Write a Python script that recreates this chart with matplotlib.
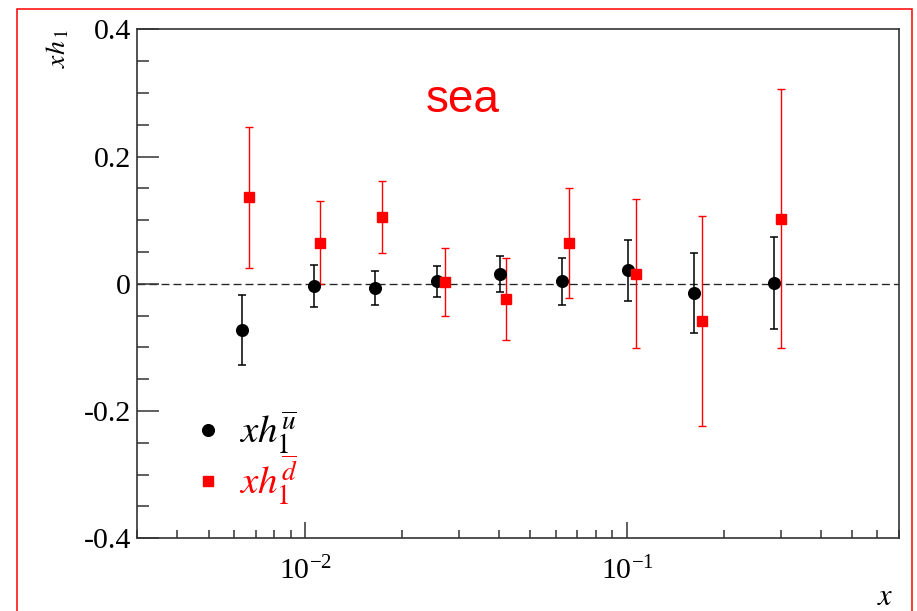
import matplotlib
matplotlib.use("Agg")
import matplotlib.pyplot as plt
from matplotlib.lines import Line2D
from matplotlib.patches import Rectangle
from matplotlib.ticker import FixedLocator, FixedFormatter, LogLocator, LogFormatterMathtext, NullFormatter

# =====================================
# Data
# =====================================
x_ubar = [0.00637, 0.0106, 0.0165, 0.0257, 0.0401, 0.0629, 0.1007, 0.1614, 0.287]
h_ubar = [-0.0725, -0.004, -0.0066, 0.004, 0.0155, 0.004, 0.021, -0.0146, 0.0013]
err_ubar = [0.0555, 0.033, 0.027, 0.0245, 0.028, 0.037, 0.0475, 0.063, 0.072]

x_dbar = [0.00667, 0.01107, 0.0173, 0.0272, 0.0421, 0.0661, 0.1062, 0.1703, 0.301]
h_dbar = [0.136, 0.0646, 0.105, 0.0024, -0.0234, 0.0646, 0.016, -0.0578, 0.1025]
err_dbar = [0.111, 0.0655, 0.0565, 0.0535, 0.0645, 0.0865, 0.117, 0.165, 0.204]

y_ticks = [-0.4, -0.2, 0.0, 0.2, 0.4]
y_tick_labels = ["-0.4", "-0.2", "0", "0.2", "0.4"]

plt.rcParams["font.family"] = "serif"
plt.rcParams["font.serif"] = ["Liberation Serif", "STIXGeneral", "DejaVu Serif"]
plt.rcParams["mathtext.fontset"] = "stix"
plt.rcParams["axes.unicode_minus"] = False

fig = plt.figure(figsize=(9.17, 6.11), dpi=100)
ax = fig.add_axes([0.1497, 0.119, 0.8307, 0.833])

# red frame around the whole picture
fig.patches.append(Rectangle((0.0182, -0.02), 0.976, 1.0048, transform=fig.transFigure,
                             fill=False, edgecolor="red", linewidth=1.1, zorder=10))

ax.axhline(0, color="#222222", linewidth=0.95, linestyle=(0, (6, 3.1)), zorder=1)

ax.errorbar(x_ubar, h_ubar, yerr=err_ubar, fmt="o", color="black", markersize=8.4,
            elinewidth=1.1, capsize=2.6, capthick=1.1, zorder=3)
ax.errorbar(x_dbar, h_dbar, yerr=err_dbar, fmt="s", color="red", markersize=7.7,
            elinewidth=1.0, capsize=2.6, capthick=1.0, zorder=3)

ax.set_xscale("log")
ax.set_xlim(0.003, 0.7)
ax.set_ylim(-0.4, 0.4)

ax.xaxis.set_major_locator(LogLocator(base=10))
ax.xaxis.set_major_formatter(LogFormatterMathtext())
ax.xaxis.set_minor_locator(LogLocator(base=10, subs=range(2, 10)))
ax.xaxis.set_minor_formatter(NullFormatter())
ax.yaxis.set_major_locator(FixedLocator(y_ticks))
ax.yaxis.set_major_formatter(FixedFormatter(y_tick_labels))
ax.yaxis.set_minor_locator(FixedLocator([-0.35, -0.3, -0.25, -0.15, -0.1, -0.05,
                                         0.05, 0.1, 0.15, 0.25, 0.3, 0.35]))

for side in ["left", "right", "top", "bottom"]:
    ax.spines[side].set_color("#333333")
    ax.spines[side].set_linewidth(1.2)

ax.tick_params(axis="both", which="both", direction="in", color="#333333", width=1.1,
               top=False, right=False, labelsize=21.5)
ax.tick_params(axis="y", which="major", length=15.6, pad=4.5)
ax.tick_params(axis="y", which="minor", length=8.4)
ax.tick_params(axis="x", which="major", length=11.3, pad=13)
ax.tick_params(axis="x", which="minor", length=6)

ax.set_ylabel(r"$xh_{\,1}$", fontsize=20, loc="top")
ax.yaxis.set_label_coords(-0.086, 1.0)
ax.set_xlabel(r"$x$", fontsize=22, loc="right")
ax.xaxis.set_label_coords(0.993, -0.088)

ax.text(0.4276, 0.861, "sea", transform=ax.transAxes, color="red", fontsize=33,
        family="Liberation Sans", ha="center", va="center")

handles = [
    Line2D([], [], marker="o", linestyle="none", color="black", markersize=8.4),
    Line2D([], [], marker="s", linestyle="none", color="red", markersize=7.7),
]
labels = [r"$xh_1^{\overline{u}}$", r"$xh_1^{\overline{d}}$"]
ax.legend(handles, labels, loc="upper left", bbox_to_anchor=(0.052, 0.285), frameon=False,
          fontsize=28, labelcolor=["black", "red"], handlelength=0.8, handletextpad=0.4,
          labelspacing=-0.08, borderaxespad=0)

fig.savefig("out.png", dpi=100)
